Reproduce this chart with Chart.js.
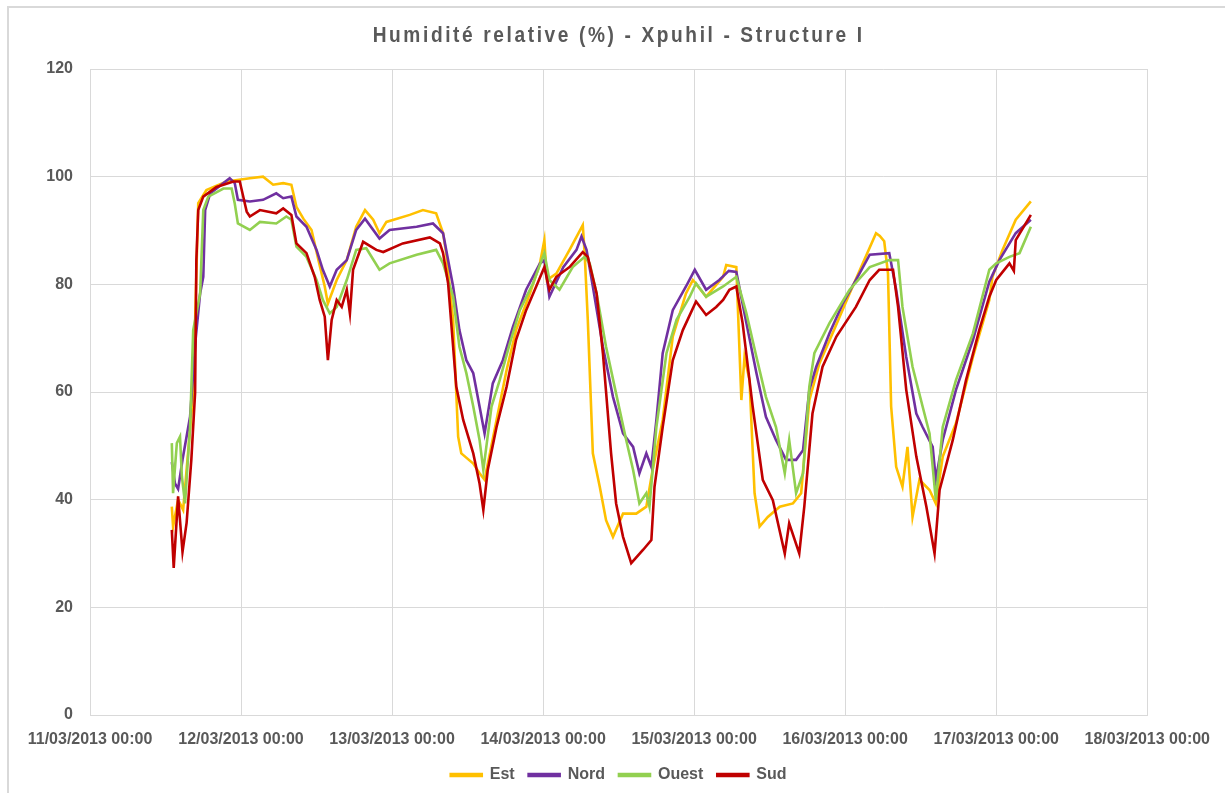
<!DOCTYPE html>
<html>
<head>
<meta charset="utf-8">
<script src="https://cdn.jsdelivr.net/npm/chart.js@4.4.1/dist/chart.umd.min.js"></script>
<style>
  html, body { margin: 0; padding: 0; background: #ffffff; }
  #wrap { width: 1225px; height: 793px; position: relative; }
</style>
</head>
<body>
<div id="wrap"><canvas id="c" width="1225" height="793"></canvas></div>
<script>
// ---- Data (hours since 11/03/2013 00:00, relative humidity %) ----
const chartTitle = "Humidité relative (%) - Xpuhil - Structure I";
const seriesNames = ["Est", "Nord", "Ouest", "Sud"];
const xTickLabels = ["11/03/2013 00:00", "12/03/2013 00:00", "13/03/2013 00:00", "14/03/2013 00:00",
                     "15/03/2013 00:00", "16/03/2013 00:00", "17/03/2013 00:00", "18/03/2013 00:00"];
const yTickValues = [0, 20, 40, 60, 80, 100, 120];

const estHours = [13.0,13.2,14.0,14.8,16.4,17.2,18.5,21.7,25.4,27.5,29.1,30.7,32.0,32.8,33.9,35.2,36.3,37.3,37.8,39.2,40.8,42.3,43.7,45.0,46.0,47.1,50.8,52.9,55.0,56.1,56.6,57.7,58.5,59.0,60.9,61.9,62.7,64.6,66.2,67.7,69.9,71.5,72.2,72.6,74.1,76.2,78.3,78.6,79.1,79.9,81.0,82.0,83.1,84.7,86.8,88.4,89.4,91.0,92.6,94.7,95.8,97.9,100.6,101.1,102.7,103.2,103.5,104.0,104.8,105.6,106.4,107.7,109.6,111.7,113.0,114.3,115.9,118.0,120.7,122.8,124.9,125.5,126.2,126.8,127.3,128.1,129.1,129.9,130.7,131.8,133.4,134.4,135.5,137.6,140.3,142.9,143.4,145.0,147.1,149.5];
const estValues = [38.7,35.0,40.0,38.1,59.8,95.1,97.5,99.1,99.7,100.0,98.5,98.8,98.5,94.4,92.2,90.1,84.5,79.6,76.4,80.8,84.5,90.7,93.8,92.0,89.5,91.6,92.9,93.8,93.2,89.5,85.8,73.4,51.7,48.6,46.7,44.9,43.7,54.8,64.1,71.5,78.3,83.9,88.2,80.8,82.0,86.4,91.0,85.8,73.4,48.6,42.4,36.2,33.1,37.4,37.4,38.7,45.5,54.8,70.3,78.3,80.8,77.7,81.4,83.6,83.2,67.8,58.5,66.5,62.2,41.2,35.0,36.8,38.7,39.3,41.2,58.5,65.3,70.9,78.3,83.9,89.5,89.0,88.0,82.0,57.3,46.1,42.4,49.8,36.8,43.7,41.8,39.3,48.0,54.2,66.5,77.1,81.4,86.4,92.0,95.4];

const nordHours = [13.0,13.5,14.0,14.7,15.9,16.8,17.5,18.0,18.3,19.1,22.2,23.0,23.5,25.4,27.5,29.6,30.7,32.0,32.8,34.4,36.0,37.0,38.1,39.2,40.8,42.3,43.7,46.0,47.6,51.9,54.5,56.1,56.9,57.7,58.7,59.8,60.9,61.9,62.7,64.0,65.6,67.2,69.3,71.5,72.2,73.0,75.2,77.3,78.1,78.9,79.9,81.5,83.1,84.7,86.3,87.3,88.4,89.2,90.0,91.0,92.6,94.7,96.1,97.9,100.0,101.5,102.7,104.3,105.9,107.4,109.0,110.6,112.2,113.3,114.3,115.4,117.5,119.6,121.7,123.9,127.0,128.1,129.7,131.3,132.3,133.9,134.4,135.5,137.6,140.3,142.9,144.5,147.1,149.5];
const nordValues = [47.0,43.0,42.0,47.4,55.4,70.0,78.3,81.4,93.8,96.9,99.7,98.8,95.7,95.4,95.7,96.9,96.0,96.3,92.6,90.7,86.4,82.7,79.6,82.7,84.5,90.1,92.2,88.5,90.1,90.7,91.3,89.5,84.5,79.6,71.5,65.9,63.5,57.3,52.3,61.6,65.9,72.1,79.0,83.9,84.5,77.7,83.2,86.4,88.9,86.4,79.6,68.4,59.1,52.3,49.8,44.9,48.6,46.1,54.8,67.2,75.2,79.6,82.7,79.0,80.8,82.5,82.3,72.8,63.5,55.4,51.1,47.4,47.4,49.2,60.4,64.7,70.9,76.4,80.8,85.5,85.8,79.0,66.5,56.0,53.5,49.8,43.7,51.1,60.4,69.7,80.5,84.5,89.5,92.0];

const ouestHours = [13.0,13.2,13.8,14.3,14.6,15.1,15.9,16.4,16.9,17.5,18.0,18.8,21.2,22.5,23.0,23.5,25.4,27.0,29.6,31.2,32.0,32.8,34.4,36.0,37.0,38.1,39.2,40.8,42.3,43.9,46.0,47.6,51.9,55.0,56.1,57.7,58.7,59.8,60.9,61.9,62.5,63.8,65.1,66.7,68.3,70.4,72.2,73.0,74.6,76.7,78.6,79.4,80.5,82.0,83.6,85.2,86.3,87.3,88.4,88.9,90.0,91.6,93.2,95.3,96.3,97.9,100.6,102.7,104.3,105.9,107.4,109.0,110.4,111.1,112.2,113.3,114.3,115.1,117.5,120.7,123.9,127.0,128.4,129.1,130.7,132.3,133.4,134.4,135.5,137.6,140.3,142.9,144.0,146.1,147.7,149.5];
const ouestValues = [50.5,41.2,50.5,51.7,44.3,39.3,53.5,71.5,74.6,78.3,93.8,96.3,97.8,97.8,95.0,91.3,90.1,91.6,91.3,92.6,92.0,87.0,85.1,80.8,77.1,74.6,75.8,80.8,86.4,86.7,82.7,83.9,85.5,86.4,83.9,77.7,68.4,63.5,57.3,51.1,45.5,57.3,62.2,69.0,75.2,80.2,85.8,80.8,79.0,83.2,85.1,83.9,78.3,68.4,59.7,51.1,45.5,39.3,41.2,38.7,53.5,67.2,73.4,77.7,80.2,77.7,79.6,81.4,74.6,66.5,59.1,53.5,44.9,51.1,41.2,44.9,61.0,67.2,72.8,79.0,83.2,84.5,84.5,75.8,64.7,57.3,52.3,39.9,53.5,62.2,70.9,82.7,83.9,85.1,85.8,90.7];

const sudHours = [13.0,13.3,14.0,14.7,15.35,16.1,16.7,16.9,17.2,18.0,20.1,22.8,23.8,24.6,24.9,25.4,27.0,29.6,30.7,32.0,32.8,34.4,35.7,36.5,37.3,37.8,38.4,39.2,40.0,40.8,41.3,41.8,43.4,45.5,46.6,49.7,54.0,55.6,56.1,56.9,58.2,59.3,60.9,61.9,62.5,63.2,64.6,66.2,67.7,69.3,70.9,72.2,73.0,74.1,76.2,78.3,79.1,80.5,81.5,82.8,83.6,84.7,86.0,87.9,89.2,89.7,91.0,92.6,94.2,96.3,97.9,99.5,100.6,101.6,102.7,103.7,105.3,106.9,108.5,110.4,111.1,112.7,113.5,114.8,116.4,118.6,121.7,123.9,125.4,127.6,128.4,129.7,131.3,132.9,134.2,135.0,137.1,139.2,141.3,142.9,144.0,146.1,146.8,147.1,149.5];
const sudValues = [34.4,27.3,40.6,30.3,35.7,47.4,59.8,84.5,93.8,96.3,98.1,99.1,99.1,95.0,93.5,92.6,93.8,93.2,94.1,92.9,87.6,85.8,81.4,77.1,74.0,65.9,73.4,77.1,75.8,79.0,74.6,82.7,87.9,86.4,86.0,87.6,88.7,87.6,85.8,80.2,61.0,54.8,48.6,43.0,38.1,45.5,53.5,61.0,69.7,75.2,79.6,83.2,79.0,81.4,83.2,86.0,85.1,78.3,67.2,48.6,39.3,33.1,28.2,30.7,32.5,42.4,53.5,65.9,71.5,76.8,74.3,75.8,77.1,79.0,79.6,72.8,57.3,43.7,39.9,30.0,35.6,30.0,38.7,56.0,64.7,70.3,75.8,80.8,82.7,82.7,75.8,60.4,48.0,38.7,30.0,41.8,51.1,62.2,71.5,77.7,80.8,83.9,82.5,88.2,92.9];

// ---- Styles ----
const colors = ["#FFC000", "#7030A0", "#92D050", "#C00000"];
const textGrey = "#595959";
const gridGrey = "#D9D9D9";
const fontFamily = '"Liberation Sans", Arial, sans-serif';

function pts(hs, vs) { return hs.map((h, i) => ({ x: h, y: vs[i] })); }
const allHours = [estHours, nordHours, ouestHours, sudHours];
const allValues = [estValues, nordValues, ouestValues, sudValues];

const datasets = seriesNames.map((name, i) => ({
  label: name,
  data: pts(allHours[i], allValues[i]),
  borderColor: colors[i],
  backgroundColor: colors[i],
  borderWidth: 2.6,
  pointRadius: 0,
  tension: 0,
  order: 4 - i
}));

const framePlugin = {
  id: 'frame',
  afterLayout(chart) {
    // centre the legend under the plot area rather than the whole canvas
    const lg = chart.legend;
    if (lg) {
      lg.left = chart.chartArea.left;
      lg.right = chart.chartArea.right;
      lg.width = lg.right - lg.left;
    }
  },
  afterDraw(chart) {
    const ctx = chart.ctx;
    ctx.save();
    ctx.strokeStyle = gridGrey;
    ctx.lineWidth = 2;
    ctx.beginPath();
    ctx.moveTo(8, 793);
    ctx.lineTo(8, 7);
    ctx.lineTo(1225, 7);
    ctx.stroke();
    ctx.font = 'bold 22px ' + fontFamily;
    ctx.fillStyle = textGrey;
    ctx.textBaseline = 'middle';
    ctx.textAlign = 'left';
    try { ctx.letterSpacing = '3px'; } catch (e) {}
    const w = ctx.measureText(chartTitle).width;
    const target = 492;
    const sx = target / w;
    const cx = (chart.chartArea.left + chart.chartArea.right) / 2;
    ctx.translate(cx - target / 2, 36);
    ctx.scale(sx, 1);
    ctx.fillText(chartTitle, 0, 0);
    ctx.restore();
  }
};

new Chart(document.getElementById('c'), {
  type: 'line',
  data: { datasets },
  options: {
    responsive: false,
    animation: false,
    layout: { padding: { left: 0, right: 77, top: 69, bottom: 0 } },
    plugins: {
      title: { display: false },
      tooltip: { enabled: false },
      legend: {
        position: 'bottom',
        labels: {
          boxWidth: 31,
          boxHeight: 2,
          padding: 14,
          color: textGrey,
          font: { family: fontFamily, size: 16, weight: 'bold' },
          sort: (a, b) => a.datasetIndex - b.datasetIndex
        }
      }
    },
    scales: {
      x: {
        type: 'linear',
        min: 0,
        max: 168,
        afterBuildTicks(scale) {
          scale.ticks = xTickLabels.map((_, i) => ({ value: i * 24 }));
        },
        afterFit(scale) { scale.height = 38; },
        ticks: {
          autoSkip: false,
          maxRotation: 0,
          padding: 15,
          color: textGrey,
          font: { family: fontFamily, size: 16, weight: 'bold' },
          callback: (v) => xTickLabels[Math.round(v / 24)]
        },
        grid: { color: gridGrey, lineWidth: 1, drawTicks: false },
        border: { color: gridGrey, width: 1 }
      },
      y: {
        min: 0,
        max: 120,
        afterBuildTicks(scale) {
          scale.ticks = yTickValues.map(v => ({ value: v }));
        },
        afterFit(scale) { scale.width = 90; },
        ticks: {
          padding: 17,
          color: textGrey,
          font: { family: fontFamily, size: 16, weight: 'bold' }
        },
        grid: { color: gridGrey, lineWidth: 1, drawTicks: false },
        border: { color: gridGrey, width: 1 }
      }
    }
  },
  plugins: [framePlugin]
});
</script>
</body>
</html>
